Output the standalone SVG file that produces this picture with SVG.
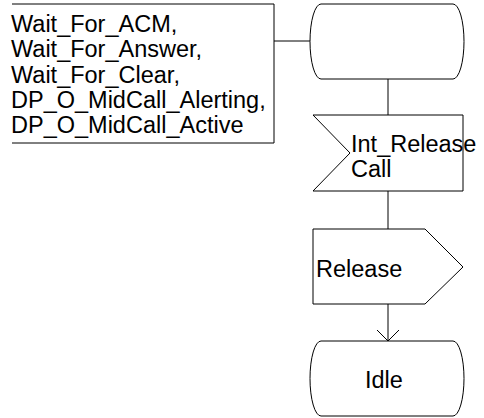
<svg xmlns="http://www.w3.org/2000/svg" width="484" height="418" viewBox="0 0 484 418">
<style>
.s{fill:none;stroke:#000;stroke-width:1}
.w{fill:#fff;stroke:#000;stroke-width:1}
text{font-family:"Liberation Sans",Arial,sans-serif;font-size:23.5px;fill:#000}
</style>
<rect width="484" height="418" fill="#fff"/>
<g id="connectors">
<line class="s" x1="274" y1="41" x2="313" y2="41"/>
<line class="s" x1="388" y1="79" x2="388" y2="115"/>
<line class="s" x1="388" y1="191" x2="388" y2="229"/>
<line class="s" x1="388" y1="304" x2="388" y2="341"/>
<polyline class="s" points="377,330 388,341 399,330"/>
</g>
<g id="comment">
<polyline class="s" points="12,4 274,4 274,143 12,143"/>
<text x="11" y="32">Wait_For_ACM,</text>
<text x="11" y="57">Wait_For_Answer,</text>
<text x="11" y="83">Wait_For_Clear,</text>
<text x="11" y="108">DP_O_MidCall_Alerting,</text>
<text x="11" y="133">DP_O_MidCall_Active</text>
</g>
<g id="state1">
<path class="w" d="M321,4 H453 A11,37.5 0 0 1 453,79 H321 A11,37.5 0 0 1 321,4 Z"/>
</g>
<g id="input">
<polygon class="w" points="313,115 463,115 463,191 313,191 350,153"/>
<text x="351" y="152">Int_Release</text>
<text x="351" y="177">Call</text>
</g>
<g id="output">
<polygon class="w" points="313,229 425,229 463,267 425,304 313,304"/>
<text x="316" y="277">Release</text>
</g>
<g id="idle">
<path class="w" d="M321,341 H453 A11,37.5 0 0 1 453,416 H321 A11,37.5 0 0 1 321,341 Z"/>
<text x="365" y="388">Idle</text>
</g>
</svg>
